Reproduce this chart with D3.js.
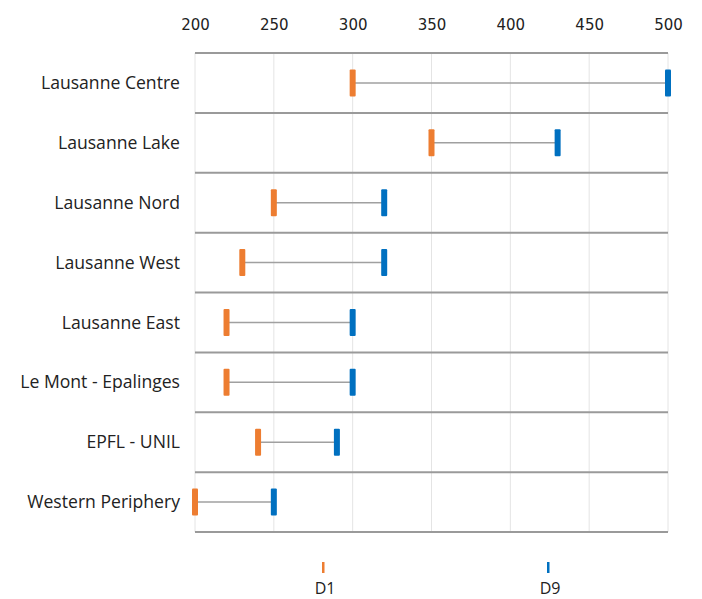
<!DOCTYPE html>
<html>
<head>
<meta charset="utf-8">
<script src="https://cdn.jsdelivr.net/npm/d3@7"></script>
<style>
  html, body { margin: 0; padding: 0; background: #fff; }
  svg { display: block; }
</style>
</head>
<body>
<svg id="chart" width="702" height="599"></svg>
<script>
// Districts (top to bottom) and their first / ninth decile values
const districts = [
  "Lausanne Centre",
  "Lausanne Lake",
  "Lausanne Nord",
  "Lausanne West",
  "Lausanne East",
  "Le Mont - Epalinges",
  "EPFL - UNIL",
  "Western Periphery"
];
const d1Values = [300, 350, 250, 230, 220, 220, 240, 200];
const d9Values = [500, 430, 320, 320, 300, 300, 290, 250];
const tickValues = [200, 250, 300, 350, 400, 450, 500];
const seriesNames = ["D1", "D9"];
const seriesColors = ["#ED7D31", "#0070C0"];

const svg = d3.select("#chart");
const margin = { top: 53, right: 34, bottom: 67, left: 195 };
const width = 702, height = 599;
const innerW = width - margin.left - margin.right;
const innerH = height - margin.top - margin.bottom;

const x = d3.scaleLinear().domain([200, 500]).range([margin.left, margin.left + innerW]);
const y = d3.scaleBand().domain(districts).range([margin.top, margin.top + innerH]).padding(0);

// vertical gridlines
svg.append("g")
  .selectAll("line")
  .data(tickValues)
  .join("line")
  .attr("x1", d => x(d)).attr("x2", d => x(d))
  .attr("y1", margin.top).attr("y2", margin.top + innerH)
  .attr("stroke", "#e4e4e4").attr("stroke-width", 1);

// top axis labels
const xAxis = d3.axisTop(x).tickValues(tickValues).tickSize(0).tickPadding(0);
const gx = svg.append("g").attr("transform", `translate(0, ${margin.top - 28})`).call(xAxis);
gx.select(".domain").remove();
gx.selectAll("text")
  .attr("font-family", "DejaVu Sans, sans-serif")
  .attr("font-size", 15)
  .attr("fill", "#222")
  .attr("dy", "0.35em");

// horizontal row separators
const bounds = districts.map(d => y(d)).concat([margin.top + innerH]);
svg.append("g")
  .selectAll("line")
  .data(bounds)
  .join("line")
  .attr("x1", margin.left).attr("x2", margin.left + innerW)
  .attr("y1", d => d).attr("y2", d => d)
  .attr("stroke", "#9a9a9a").attr("stroke-width", 2);

// category labels
svg.append("g")
  .selectAll("text")
  .data(districts)
  .join("text")
  .attr("x", margin.left - 15)
  .attr("y", d => y(d) + y.bandwidth() / 2)
  .attr("dy", "0.35em")
  .attr("text-anchor", "end")
  .attr("font-family", "Open Sans, sans-serif")
  .attr("font-size", 17.6)
  .attr("fill", "#222")
  .text(d => d);

// connectors
const rows = districts.map((d, i) => ({ name: d, d1: d1Values[i], d9: d9Values[i] }));
svg.append("g")
  .selectAll("line")
  .data(rows)
  .join("line")
  .attr("x1", d => x(d.d1)).attr("x2", d => x(d.d9))
  .attr("y1", d => y(d.name) + y.bandwidth() / 2)
  .attr("y2", d => y(d.name) + y.bandwidth() / 2)
  .attr("stroke", "#a0a0a0").attr("stroke-width", 1.5);

// decile markers
const markW = 6, markH = 27;
[["d1", 0], ["d9", 1]].forEach(([key, si]) => {
  svg.append("g")
    .selectAll("rect")
    .data(rows)
    .join("rect")
    .attr("x", d => x(d[key]) - markW / 2)
    .attr("y", d => y(d.name) + y.bandwidth() / 2 - markH / 2)
    .attr("width", markW).attr("height", markH)
    .attr("rx", 1)
    .attr("fill", seriesColors[si]);
});

// legend
const legendX = d3.scalePoint().domain(seriesNames).range([323, 548]);
const lg = svg.append("g").selectAll("g").data(seriesNames).join("g")
  .attr("transform", d => `translate(${legendX(d)}, 0)`);
lg.append("rect")
  .attr("x", -1).attr("y", 562).attr("width", 2.5).attr("height", 11)
  .attr("fill", (d, i) => seriesColors[i]);
lg.append("text")
  .attr("x", 2).attr("y", 594)
  .attr("text-anchor", "middle")
  .attr("font-family", "Open Sans, sans-serif")
  .attr("font-size", 16)
  .attr("fill", "#222")
  .text(d => d);
</script>
</body>
</html>
